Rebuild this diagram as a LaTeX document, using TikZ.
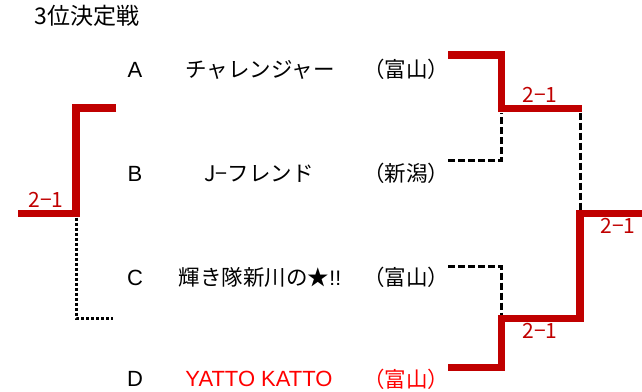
\documentclass[tikz,border=0pt]{standalone}
\usepackage{fontspec}
\setmainfont{Liberation Sans}
\newfontfamily\jp{Noto Sans CJK JP}
\usetikzlibrary{calc}
\definecolor{winred}{HTML}{C00000}

\begin{document}
\begin{tikzpicture}[x=1pt,y=-1pt,
                    team/.style={font=\fontsize{22}{26}\selectfont,inner sep=0pt},
                    jname/.style={team,font=\jp\fontsize{21.5}{26}\selectfont},
                    score/.style={font=\jp\fontsize{21}{24}\selectfont,text=winred,inner sep=0pt},
                    win/.style={draw=winred,line width=7.5pt},
                    lose/.style={draw=black,line width=3pt,dash pattern=on 7pt off 3pt},
                    lose3/.style={draw=black,line width=3pt,dash pattern=on 3pt off 2pt}]
      \useasboundingbox (0,0) rectangle (642,391);
      \node[team,font=\jp\fontsize{23}{26}\selectfont] (title) at (87,16) {3位決定戦};

      \node[team] (a) at (135,69.5) {A};
      \node[team] (b) at (135,173.5) {B};
      \node[team] (c) at (135,277.5) {C};
      \node[team] (d) at (135,379) {D};
      \node[jname] (aname) at (260,69.5) {チャレンジャー};
      \node[jname] (bname) at (259,173.5) {J−フレンド};
      \node[jname] (cname) at (260,277.5) {輝き隊新川の★{\rmfamily\fontsize{21}{24}\selectfont!!}};
      \node[team,text=red] (dname) at (259,379) {YATTO KATTO};
      \node[jname] (apref) at (406,69.5) {（富山）};
      \node[jname] (bpref) at (406,173.5) {（新潟）};
      \node[jname] (cpref) at (406,277.5) {（富山）};
      \node[jname,text=red] (dpref) at (406,379) {（富山）};

      % bracket ends
      \coordinate (aend) at (448,55);
      \coordinate (bend) at (448,160);
      \coordinate (cend) at (448,266);
      \coordinate (dend) at (448,367.5);
      \coordinate (ab) at (501.5,108.5);
      \coordinate (cd) at (501.5,318.5);
      \coordinate (final) at (580,213.5);
      \coordinate (rightend) at (642,213.5);
      \coordinate (ltop) at (116,108);
      \coordinate (lbot) at (113,318);
      \coordinate (lmid) at (76,213.5);
      \coordinate (leftend) at (18,213.5);

      \draw[lose] (bend) -| ($(ab)+(0,4)$);
      \draw[lose] (cend) -| ($(cd)+(0,-4)$);
      \draw[lose] ($(final|-ab)+(0,4)$) -- ($(final)+(0,-4)$);
      \draw[lose3] ($(lmid)+(0.5,4)$) |- (lbot);

      \draw[win] (aend) -| (ab) -- ($(final|-ab)+(2,0)$);
      \draw[win] (dend) -| (cd) -| (final) -- (rightend);
      \draw[win] (ltop) -| (lmid) -- (leftend);

      \node[score] (abscore) at (540,95) {2−1};
      \node[score] (cdscore) at (540,330.5) {2−1};
      \node[score] (fscore) at (618,226) {2−1};
      \node[score] (lscore) at (46,200) {2−1};
    \end{tikzpicture}
\end{document}
